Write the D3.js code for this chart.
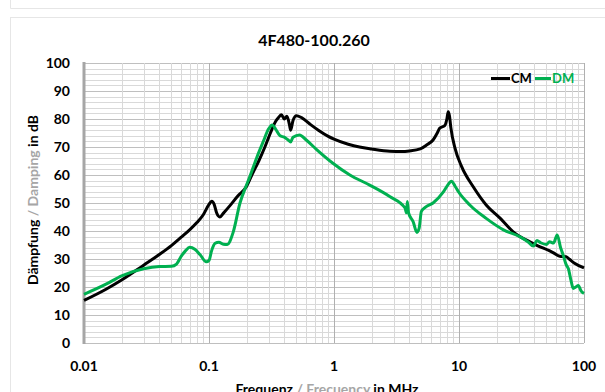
<!doctype html>
<html>
<head>
<script src="https://cdnjs.cloudflare.com/ajax/libs/d3/7.8.5/d3.min.js"></script>
<style>
  body { margin: 0; background: #fff; }
  svg { display: block; font-family: Lato, "Open Sans", sans-serif; }
</style>
</head>
<body>
<svg width="605" height="392"></svg>
<script>
// frequencies in MHz, damping in dB
var cmFreq = [0.01,0.015,0.02,0.03,0.04,0.05,0.06,0.07,0.08,0.09,0.1,0.105,0.11,0.115,0.122,0.13,0.15,0.17,0.2,0.22,0.25,0.28,0.31,0.34,0.36,0.38,0.40,0.42,0.44,0.45,0.47,0.5,0.55,0.65,0.75,0.9,1.0,1.3,1.6,2,2.8,3.5,4,4.9,5.5,6.2,6.7,7.0,7.7,8.0,8.2,8.4,8.6,9.3,10.5,13,16.5,21.4,27,39,57,64,72,77,84,100];
var cmVal  = [15.2,19.2,22.5,27.8,31.6,34.8,37.8,40.4,43,45.8,49.5,50.6,49.5,46.5,45,46.3,49.5,52.5,56,60,65,70,75,79,80.5,81.5,80,81,78,76,79.5,81.2,80.5,78,76,73.8,72.8,71,70,69.3,68.5,68.4,68.6,69.3,70.7,72.5,75,76.7,77.7,80,82.6,81,77,69.5,63,55.8,49.3,44.5,39.8,35.6,32.2,31,30.8,29.8,28.5,26.8];

var dmFreq = [0.01,0.015,0.02,0.03,0.04,0.05,0.055,0.06,0.065,0.07,0.077,0.085,0.095,0.1,0.105,0.112,0.12,0.13,0.14,0.156,0.177,0.2,0.213,0.24,0.272,0.30,0.32,0.34,0.37,0.40,0.43,0.45,0.47,0.53,0.6,0.73,0.98,1.34,1.93,2.79,3.7,3.8,3.86,3.95,4.3,4.6,4.8,5.0,5.4,6.2,7.5,8.3,8.7,9.3,9.9,12.2,16.5,22.7,30.6,36,39.3,42,45,50,53,57,61,65,68,72,75,79,82,86,90,95,100];
var dmVal  = [17.4,21,24,26.5,27.3,27.4,28.2,31,33,34.2,33.5,31.5,29,29.5,33,35.6,36,35.3,35.2,39.5,50,56.5,59.6,66,72,76.5,77.9,76.5,74,73.5,72.5,71.8,73.5,74.3,72.5,69,64.2,60,56.4,52.3,48.2,46.5,50.5,46.5,43.3,39.5,41,47,48.5,50,54,57,57.8,56,54,49.3,44.5,40.4,38,36,34.6,36.6,35.8,35.2,36.2,35.7,38.6,34,31.5,28,26.5,22,19.5,20,20.5,18.5,17.7];

var xTicks = [0.01, 0.1, 1, 10, 100];
var yTicks = [0, 10, 20, 30, 40, 50, 60, 70, 80, 90, 100];

var svg = d3.select("svg");

// card outlines
svg.append("path").attr("d", "M10.5,0V8.5H605").attr("fill", "none").attr("stroke", "#e6e6e6");
svg.append("rect").attr("x", 10.5).attr("y", 17.5).attr("width", 600).attr("height", 400)
    .attr("fill", "none").attr("stroke", "#e6e6e6");

var x = d3.scaleLog().domain([0.01, 100]).range([84, 584]);
var y = d3.scaleLinear().domain([0, 100]).range([343, 63]);

// grid
var minorX = [];
for (var e = -2; e < 2; e++) {
    for (var k = 2; k <= 9; k++) minorX.push(k * Math.pow(10, e));
}
var minorY = d3.range(0, 101, 2);

var grid = svg.append("g");
grid.selectAll(".hy").data(minorY).enter().append("line")
    .attr("x1", 84).attr("x2", 584)
    .attr("y1", function (d) { return Math.round(y(d)) + 0.5; })
    .attr("y2", function (d) { return Math.round(y(d)) + 0.5; })
    .attr("stroke", function (d) { return d % 10 == 0 ? "#bfbfbf" : "#d9d9d9"; })
    .attr("stroke-width", 1);
grid.selectAll(".vx").data(minorX).enter().append("line")
    .attr("y1", 63).attr("y2", 343)
    .attr("x1", function (d) { return Math.round(x(d)) + 0.5; })
    .attr("x2", function (d) { return Math.round(x(d)) + 0.5; })
    .attr("stroke", "#d9d9d9");
grid.selectAll(".mx").data(xTicks.slice(1)).enter().append("line")
    .attr("y1", 63).attr("y2", 343)
    .attr("x1", function (d) { return Math.round(x(d)) + 0.5; })
    .attr("x2", function (d) { return Math.round(x(d)) + 0.5; })
    .attr("stroke", "#b0b0b0");
// left axis line
svg.append("line").attr("x1", 84).attr("x2", 84).attr("y1", 62).attr("y2", 344)
    .attr("stroke", "#a6a6a6").attr("stroke-width", 3);

// ticks
svg.append("g").selectAll("text").data(yTicks).enter().append("text")
    .attr("x", 70).attr("y", function (d) { return y(d) + 5; })
    .attr("text-anchor", "end").attr("font-size", 14).attr("font-weight", "bold")
    .text(function (d) { return d; });
svg.append("g").selectAll("text").data(xTicks).enter().append("text")
    .attr("x", function (d) { return x(d); }).attr("y", 371)
    .attr("text-anchor", "middle").attr("font-size", 14).attr("font-weight", "bold")
    .text(function (d) { return d; });

// lines
var line = d3.line()
    .x(function (d) { return x(d[0]); })
    .y(function (d) { return y(d[1]); })
    .curve(d3.curveMonotoneX);

svg.append("path").datum(d3.zip(cmFreq, cmVal))
    .attr("d", line).attr("fill", "none").attr("stroke", "#000").attr("stroke-width", 3);
svg.append("path").datum(d3.zip(dmFreq, dmVal))
    .attr("d", line).attr("fill", "none").attr("stroke", "#00b050").attr("stroke-width", 3);

// title
svg.append("text").attr("x", 314).attr("y", 46).attr("text-anchor", "middle")
    .attr("font-size", 16).attr("font-weight", "bold").text("4F480-100.260");

// legend
var lg = svg.append("g").attr("font-size", 13).attr("font-weight", "bold");
lg.append("line").attr("x1", 491).attr("x2", 510).attr("y1", 78.5).attr("y2", 78.5).attr("stroke", "#000").attr("stroke-width", 3);
lg.append("text").attr("x", 511).attr("y", 83).text("CM");
lg.append("line").attr("x1", 535).attr("x2", 551).attr("y1", 78.5).attr("y2", 78.5).attr("stroke", "#00b050").attr("stroke-width", 3);
lg.append("text").attr("x", 552).attr("y", 83).attr("fill", "#00b050").text("DM");

// axis titles (bottom one is clipped by the window edge, as in the original)
var xt = svg.append("text").attr("x", 327).attr("y", 394).attr("text-anchor", "middle")
    .attr("font-size", 14).attr("font-weight", "bold");
xt.append("tspan").text("Frequenz ");
xt.append("tspan").attr("fill", "#a6a6a6").text("/ Frecuency ");
xt.append("tspan").text("in MHz");

var yt = svg.append("text").attr("transform", "translate(38,200) rotate(-90)").attr("text-anchor", "middle")
    .attr("font-size", 14).attr("font-weight", "bold");
yt.append("tspan").text("Dämpfung ");
yt.append("tspan").attr("fill", "#a6a6a6").text("/ Damping ");
yt.append("tspan").text("in dB");
</script>
</body>
</html>
